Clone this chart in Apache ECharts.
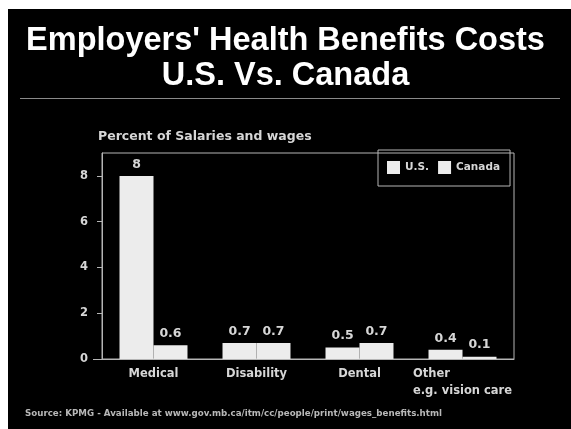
<!DOCTYPE html>
<html>
<head>
<meta charset="utf-8">
<script src="https://cdn.jsdelivr.net/npm/echarts@6/dist/echarts.min.js"></script>
<style>
  html, body { margin: 0; padding: 0; background: #ffffff; }
  #chart { width: 571px; height: 429px; }
</style>
</head>
<body>
<div id="chart"></div>
<script>
// Employer health benefit costs, percent of salaries and wages
const categories = ['Medical', 'Disability', 'Dental', 'Other\ne.g. vision care'];
const usValues = [8, 0.7, 0.5, 0.4];
const canadaValues = [0.6, 0.7, 0.7, 0.1];
const yTicks = [0, 2, 4, 6, 8];

const TITLE_FONT = '"Liberation Sans", Arial, sans-serif';
const FONT = '"DejaVu Sans", Verdana, sans-serif';
const BAR = '#ececec';
const LINE = '#b5b5b5';
const TEXT = '#d6d6d6';

const chart = echarts.init(document.getElementById('chart'), null, { renderer: 'canvas' });

const barLabel = {
  show: true,
  position: 'top',
  distance: 5,
  color: TEXT,
  fontFamily: FONT,
  fontWeight: 'bold',
  fontSize: 12.5,
  formatter: p => String(p.value)
};

chart.setOption({
  backgroundColor: '#ffffff',
  animation: false,
  graphic: [
    { type: 'rect', z: -10, shape: { x: 8, y: 9, width: 563, height: 420 }, style: { fill: '#000000' } },
    { type: 'line', shape: { x1: 20, y1: 98.5, x2: 560, y2: 98.5 }, style: { stroke: '#8a8a8a', lineWidth: 1 } },
    { type: 'line', shape: { x1: 93, y1: 359.5, x2: 102, y2: 359.5 }, style: { stroke: LINE, lineWidth: 1 } },
    {
      type: 'text', left: 25, top: 409,
      style: {
        text: 'Source: KPMG - Available at www.gov.mb.ca/itm/cc/people/print/wages_benefits.html',
        fill: '#b8b8b8', font: 'bold 8.7px ' + FONT
      }
    }
  ],
  title: {
    text: "Employers' Health Benefits Costs\nU.S. Vs. Canada",
    left: 'center',
    top: 19,
    textStyle: { color: '#ffffff', fontFamily: TITLE_FONT, fontWeight: 'bold', fontSize: 32.5, lineHeight: 35 }
  },
  legend: {
    left: 378,
    top: 150,
    padding: [11, 10, 12, 9],
    itemGap: 9,
    itemWidth: 13,
    itemHeight: 13,
    borderColor: LINE,
    borderWidth: 1,
    icon: 'rect',
    formatter: name => name === 'U.S.' ? '{u|' + name + '}' : '{c|' + name + '}',
    textStyle: {
      color: TEXT, fontFamily: FONT, fontWeight: 'bold', fontSize: 10.5,
      rich: {
        u: { width: 26, color: TEXT, fontFamily: FONT, fontWeight: 'bold', fontSize: 10.5 },
        c: { width: 49, color: TEXT, fontFamily: FONT, fontWeight: 'bold', fontSize: 10.5 }
      }
    },
    data: ['U.S.', 'Canada']
  },
  grid: {
    left: 102, right: 57, top: 153, bottom: 70,
    show: true, borderColor: LINE, borderWidth: 1, backgroundColor: 'transparent'
  },
  xAxis: {
    type: 'category',
    data: categories,
    axisLine: { lineStyle: { color: LINE } },
    axisTick: { show: false },
    axisLabel: {
      interval: 0,
      hideOverlap: false,
      color: TEXT, fontFamily: FONT, fontWeight: 'bold', fontSize: 11.5, margin: 7, lineHeight: 17,
      formatter: v => v.indexOf('\n') >= 0 ? v.split('\n').map(s => '{l|' + s + '}').join('\n') : v,
      rich: { l: { align: 'left', color: TEXT, fontFamily: FONT, fontWeight: 'bold', fontSize: 11.5, lineHeight: 17 } }
    }
  },
  yAxis: {
    type: 'value',
    min: 0,
    max: 9,
    interval: 2,
    name: 'Percent of Salaries and wages',
    nameLocation: 'end',
    nameGap: 10,
    nameTextStyle: { color: TEXT, fontFamily: FONT, fontWeight: 'bold', fontSize: 12.5, align: 'left', padding: [0, 0, 0, -4] },
    splitLine: { show: false },
    axisLine: { show: true, lineStyle: { color: LINE } },
    axisTick: { show: true, length: 5, inside: false, lineStyle: { color: LINE }, customValues: yTicks },
    axisLabel: { color: TEXT, fontFamily: FONT, fontWeight: 'bold', fontSize: 11.5, margin: 14, customValues: yTicks }
  },
  series: [
    {
      name: 'U.S.', type: 'bar', data: usValues,
      itemStyle: { color: BAR }, barGap: '0%', barCategoryGap: '34%',
      label: barLabel
    },
    {
      name: 'Canada', type: 'bar', data: canadaValues,
      itemStyle: { color: BAR },
      label: barLabel
    }
  ]
});
</script>
</body>
</html>
